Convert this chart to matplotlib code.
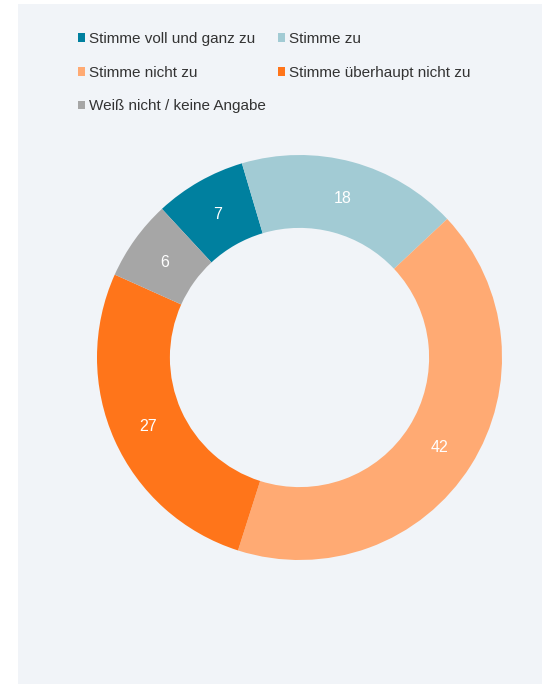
import matplotlib.pyplot as plt
from matplotlib.patches import Rectangle

### data ###
labels = ['Stimme voll und ganz zu', 'Stimme zu', 'Stimme nicht zu',
          'Stimme überhaupt nicht zu', 'Weiß nicht / keine Angabe']
values = [7.3, 17.6, 41.9, 26.8, 6.4]   # shares in %
colors = ['#00809F', '#A2CBD4', '#FFAA73', '#FF751A', '#A6A6A6']

### plotting parameters ###
bg = '#F1F4F8'
fs = 11
fs_lab = 11.5

plt.rcParams['font.family'] = ['Liberation Sans', 'DejaVu Sans']

fig = plt.figure(figsize=(5.42, 6.84), dpi=100)
fig.patch.set_facecolor('white')
panel = Rectangle((18/542., 0), 1 - 18/542., 1 - 4/684., transform=fig.transFigure,
                  facecolor=bg, edgecolor='none', zorder=-10)
fig.add_artist(panel)

ax = fig.add_axes([97/542., 124/684., 405/542., 405/684.])
ax.set_facecolor('none')
ax.set_zorder(5)
wedges, texts, autotexts = ax.pie(values, colors=colors, startangle=132.8, counterclock=False,
                                  radius=1, wedgeprops=dict(width=0.36, edgecolor='none'),
                                  autopct='%.0f', pctdistance=0.82,
                                  textprops=dict(color='white', fontsize=fs_lab))
# labels sit a touch lower in the original
for t in autotexts:
    t.set_y(t.get_position()[1] - 0.008)
ax.set_xlim(-1, 1)
ax.set_ylim(-1, 1)
ax.axis('off')

# legend laid out row by row
order = [0, 2, 4, 1, 3]
leg = fig.legend([wedges[i] for i in order], [labels[i] for i in order], ncol=2,
                 loc='upper left', bbox_to_anchor=(64/542., 1 - 18/684.),
                 frameon=False, fontsize=fs, handlelength=0.5, handleheight=0.5,
                 handletextpad=0.25, columnspacing=0.75, labelspacing=1.3)
for t in leg.get_texts():
    t.set_color('#333333')

plt.savefig('out.png', dpi=100, facecolor='white')
plt.close()
